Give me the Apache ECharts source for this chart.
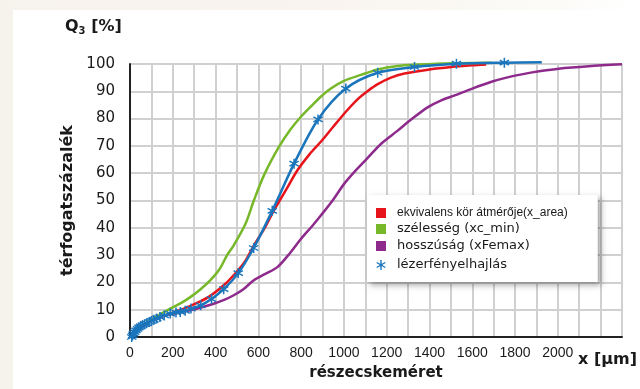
<!DOCTYPE html>
<html><head><meta charset="utf-8">
<script src="https://cdn.jsdelivr.net/npm/echarts@6/dist/echarts.min.js"></script>
<style>html,body{margin:0;padding:0;background:#ffffff}#c{width:640px;height:389px}</style>
</head><body><div id="c"></div>
<script>
// Series names (legend)
const seriesNames = ['ekvivalens kör átmérője(x_area)', 'szélesség (xc_min)', 'hosszúság (xFemax)', 'lézerfényelhajlás'];
// [x (µm), Q3 (%)]
const areaData = [[10,0],[30,2],[60,4],[100,5.8],[150,7.5],[211,9.2],[289,11.6],[368,14.7],[446,19.5],[500,24],[540,28],[579,33.5],[630,40],[673,46.4],[730,54],[782,61],[840,67],[892,71.5],[950,77],[1009,82.5],[1060,86.8],[1110,90],[1158,92.6],[1220,95],[1283,96.5],[1400,98],[1502,98.9],[1600,99.5],[1665,99.8]];
const widthData = [[10,0],[40,3],[80,5.5],[125,7.6],[188,10.4],[240,12.5],[282,14.6],[330,17.5],[376,20.8],[420,25],[454,30],[485,33.6],[540,41.5],[579,50],[626,59.2],[696,69.6],[750,76],[798,80.6],[850,84.8],[892,88],[939,91],[1000,93.8],[1080,96],[1158,98],[1250,99.3],[1346,99.8],[1500,100.3],[1690,100.5]];
const lengthData = [[10,0],[40,3],[80,5],[125,6.8],[172,8],[230,9],[282,9.8],[340,11],[391,12.2],[440,13.6],[485,15.3],[530,17.5],[579,20.8],[630,23],[689,25.6],[740,30],[800,36],[850,40.5],[892,44.5],[947,50],[1000,56],[1048,60.4],[1110,65.5],[1174,70.8],[1250,75.5],[1320,80],[1393,84.2],[1450,86.5],[1518,88.5],[1600,91],[1690,93.5],[1760,95],[1831,96.2],[1920,97.4],[2003,98.3],[2144,99.2],[2300,99.9]];
const laserData = [[8,0],[12,0.6],[16,1.2],[22,1.8],[28,2.4],[35,3],[42,3.5],[50,3.9],[58,4.3],[68,4.7],[78,5],[90,5.5],[100,5.9],[112,6.3],[125,6.8],[140,7.3],[160,7.9],[188,8.6],[215,9],[235,9.2],[258,9.6],[285,10.4],[331,11.6],[381,13.9],[438,17.5],[506,23.4],[578,32.6],[665,46.2],[767,63.5],[879,79.7],[1009,91],[1158,96.8],[1330,98.9],[1526,100.1],[1750,100.5],[1925,100.6]];
// Axis
const xMin = 0, xMax = 2300, xStep = 100, xLabelStep = 200, xLabelMax = 2000;
const yMin = 0, yMax = 100, yStep = 10;

const colors = ['#e8141c', '#77b82a', '#8e2a8c', '#1a75bc'];
const asterisk = 'path://M4.3,0H5.7V10H4.3Z M0.348,3.105L1.052,1.895L9.652,6.895L8.948,8.105Z M1.052,8.105L0.348,6.895L8.948,1.895L9.652,3.105Z';
const square = 'path://M0,0H10V10H0Z';

const laserSeriesData = laserData.map((p, i) => i === laserData.length - 1 ? {value: p, symbol: 'none'} : p);

const chart = echarts.init(document.getElementById('c'), null, {renderer: 'canvas'});
const lineSeries = (name, data, color) => ({
  name, type: 'line', data, smooth: 0.3, showSymbol: false, symbol: 'none', clip: false,
  lineStyle: {color, width: 2.5}, itemStyle: {color}
});
chart.setOption({
  animation: false,
  backgroundColor: '#ffffff',
  graphic: [
    {type: 'rect', shape: {x: 0, y: 0, width: 13, height: 389}, style: {fill: '#f6f2ec'}, silent: true},
    {type: 'rect', shape: {x: 0, y: 0, width: 640, height: 10}, silent: true,
      style: {fill: new echarts.graphic.LinearGradient(0, 0, 1, 0, [
        {offset: 0, color: '#f6f2ec'}, {offset: 0.5, color: '#f9f4ef'}, {offset: 0.82, color: '#fbfaf6'}, {offset: 1, color: '#ffffff'}])}},
    {type: 'text', left: 65, top: 19, style: {text: 'Q{s|3} [%]', fontFamily: 'DejaVu Sans', fontWeight: 'bold', fontSize: 16, fill: '#1a1a1a',
      rich: {s: {fontSize: 10, fontWeight: 'bold', fontFamily: 'DejaVu Sans', padding: [8, 0, 0, 0]}}}},
    {type: 'text', left: 578, top: 352, style: {text: 'x [μm]', fontFamily: 'DejaVu Sans', fontWeight: 'bold', fontSize: 16, fill: '#1a1a1a'}}
  ],
  grid: {left: 130, right: 18, top: 64, bottom: 52, containLabel: false},
  legend: {
    orient: 'vertical', left: 367, top: 195,
    padding: [11, 30, 8, 9], itemGap: 2, itemWidth: 22, itemHeight: 10,
    backgroundColor: '#ffffff', borderWidth: 0,
    shadowBlur: 6, shadowColor: 'rgba(0,0,0,0.35)', shadowOffsetX: 3, shadowOffsetY: 3,
    textStyle: {fontFamily: 'DejaVu Sans', fontSize: 13, color: '#1a1a1a'},
    data: [
      {name: seriesNames[0], icon: square, textStyle: {fontFamily: 'Liberation Sans', fontSize: 12, lineHeight: 14}},
      {name: seriesNames[1], icon: square, textStyle: {lineHeight: 14}},
      {name: seriesNames[2], icon: square, textStyle: {lineHeight: 16}},
      {name: seriesNames[3], icon: asterisk, textStyle: {lineHeight: 18}}
    ]
  },
  xAxis: {
    type: 'value', min: xMin, max: xMax, interval: xStep,
    name: 'részecskeméret', nameLocation: 'middle', nameGap: 29,
    nameTextStyle: {fontFamily: 'DejaVu Sans', fontWeight: 'bold', fontSize: 15, color: '#1a1a1a'},
    axisLine: {show: true, lineStyle: {color: '#222222', width: 2}},
    axisTick: {show: false},
    axisLabel: {margin: 9, fontFamily: 'Liberation Sans', fontSize: 14, color: '#1a1a1a',
      formatter: v => (v % xLabelStep === 0 && v <= xLabelMax) ? String(v) : ''},
    splitLine: {show: true, lineStyle: {color: '#d0d0d0', width: 2}}
  },
  yAxis: {
    type: 'value', min: yMin, max: yMax, interval: yStep,
    name: 'térfogatszázalék', nameLocation: 'middle', nameGap: 52,
    nameTextStyle: {fontFamily: 'DejaVu Sans', fontWeight: 'bold', fontSize: 16, color: '#1a1a1a'},
    axisLine: {show: true, lineStyle: {color: '#222222', width: 2}},
    axisTick: {show: false},
    axisLabel: {margin: 15, fontFamily: 'DejaVu Sans', fontSize: 15, color: '#1a1a1a'},
    splitLine: {show: true, lineStyle: {color: '#d0d0d0', width: 2}}
  },
  series: [
    lineSeries(seriesNames[0], areaData, colors[0]),
    lineSeries(seriesNames[1], widthData, colors[1]),
    lineSeries(seriesNames[2], lengthData, colors[2]),
    {
      name: seriesNames[3], type: 'line', data: laserSeriesData, smooth: 0.3, clip: false,
      symbol: asterisk, symbolSize: 10, showSymbol: true, showAllSymbol: true,
      lineStyle: {color: colors[3], width: 2.5}, itemStyle: {color: colors[3]}
    }
  ]
});
</script>
</body></html>
